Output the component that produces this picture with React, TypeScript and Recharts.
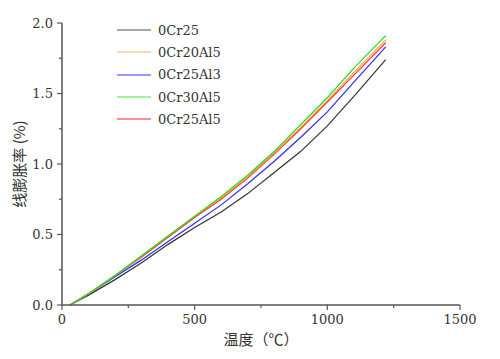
import { LineChart, Line, XAxis, YAxis, Legend } from 'recharts'

const temps = [30, 100, 200, 300, 400, 500, 600, 700, 800, 900, 1000, 1100, 1220]

const cr25 = [0, 0.07, 0.18, 0.3, 0.43, 0.55, 0.66, 0.79, 0.94, 1.09, 1.27, 1.48, 1.74]
const cr20al5 = [0, 0.08, 0.21, 0.35, 0.49, 0.63, 0.76, 0.91, 1.08, 1.26, 1.45, 1.65, 1.88]
const cr25al3 = [0, 0.08, 0.2, 0.32, 0.45, 0.58, 0.71, 0.86, 1.02, 1.19, 1.37, 1.58, 1.83]
const cr30al5 = [0, 0.08, 0.21, 0.35, 0.49, 0.63, 0.77, 0.92, 1.09, 1.28, 1.47, 1.68, 1.91]
const cr25al5 = [0, 0.08, 0.21, 0.34, 0.48, 0.62, 0.75, 0.9, 1.07, 1.25, 1.44, 1.63, 1.86]

const xTicks = [0, 250, 500, 750, 1000, 1250, 1500]
const yTicks = [0, 0.25, 0.5, 0.75, 1, 1.25, 1.5, 1.75, 2]

// legend order as in the figure
const series = [
  { key: 'cr25', name: '0Cr25', color: '#333333', legendColor: '#8a8a8a' },
  { key: 'cr20al5', name: '0Cr20Al5', color: '#ff9a40', legendColor: '#ffc898' },
  { key: 'cr25al3', name: '0Cr25Al3', color: '#2a2aff', legendColor: '#7878ff' },
  { key: 'cr30al5', name: '0Cr30Al5', color: '#22dd22', legendColor: '#7cf07c' },
  { key: 'cr25al5', name: '0Cr25Al5', color: '#ff3322', legendColor: '#ff6a6a' },
]

const data = temps.map((t, i) => ({
  t,
  cr25: cr25[i],
  cr20al5: cr20al5[i],
  cr25al3: cr25al3[i],
  cr30al5: cr30al5[i],
  cr25al5: cr25al5[i],
}))

const axisColor = '#555'
const textColor = '#333'
const tickFont = 'DejaVu Serif, serif'

function XTick({ x, y, payload }: any) {
  const major = payload.value % 500 === 0
  return (
    <g>
      <line x1={x} x2={x} y1={y} y2={y + (major ? 5 : 3)} stroke={axisColor} strokeWidth={1.2} />
      {major && (
        <text x={x} y={y + 19} textAnchor="middle" fontSize={13} fontFamily={tickFont} fill={textColor}>
          {payload.value}
        </text>
      )}
    </g>
  )
}

function YTick({ x, y, payload }: any) {
  const major = Math.abs((payload.value * 2) % 1) < 1e-6
  return (
    <g>
      <line x1={x - (major ? 5 : 3)} x2={x} y1={y} y2={y} stroke={axisColor} strokeWidth={1.2} />
      {major && (
        <text x={x - 9} y={y + 4.5} textAnchor="end" fontSize={13} fontFamily={tickFont} fill={textColor}>
          {payload.value.toFixed(1)}
        </text>
      )}
    </g>
  )
}

function LegendBox() {
  return (
    <div>
      {series.map(s => (
        <div key={s.key} style={{ display: 'flex', alignItems: 'center', height: 22.3 }}>
          <svg width={34} height={4} style={{ marginRight: 7 }}>
            <line x1={0} x2={34} y1={2} y2={2} stroke={s.legendColor} strokeWidth={1.5} />
          </svg>
          <span style={{ fontFamily: tickFont, fontSize: 13, color: textColor }}>{s.name}</span>
        </div>
      ))}
    </div>
  )
}

export default function App() {
  const drawOrder = ['cr25', 'cr25al3', 'cr25al5', 'cr20al5', 'cr30al5']
  return (
    <div style={{ position: 'absolute', left: 0, top: 0, background: '#fff' }}>
      <LineChart width={500} height={359} data={data} margin={{ top: 23, right: 40, left: 12, bottom: 14 }}>
        <XAxis
          dataKey="t"
          type="number"
          domain={[0, 1500]}
          ticks={xTicks}
          interval={0}
          tickSize={0}
          tickMargin={0}
          tick={<XTick />}
          height={40}
          axisLine={{ stroke: axisColor, strokeWidth: 1.5 }}
          tickLine={false}
          label={{
            value: '温度（℃）',
            position: 'insideBottom',
            offset: 0,
            fontSize: 15,
            fill: textColor,
            fontFamily: 'Noto Sans CJK SC',
          }}
        />
        <YAxis
          type="number"
          domain={[0, 2]}
          ticks={yTicks}
          interval={0}
          tickSize={0}
          tickMargin={0}
          tick={<YTick />}
          width={50}
          axisLine={{ stroke: axisColor, strokeWidth: 1.5 }}
          tickLine={false}
          label={{
            value: '线膨胀率 (%)',
            angle: -90,
            position: 'insideLeft',
            offset: 8,
            fontSize: 15,
            fill: textColor,
            fontFamily: 'Noto Sans CJK SC',
            style: { textAnchor: 'middle' },
          }}
        />
        <Legend
          layout="vertical"
          align="center"
          verticalAlign="middle"
          content={<LegendBox />}
          wrapperStyle={{ left: 117, top: 19, width: 'auto' }}
        />
        {drawOrder.map(k => {
          const s = series.find(v => v.key === k)!
          return (
            <Line
              key={k}
              type="linear"
              dataKey={k}
              name={s.name}
              stroke={s.color}
              strokeWidth={1.2}
              dot={false}
              isAnimationActive={false}
            />
          )
        })}
      </LineChart>
    </div>
  )
}
